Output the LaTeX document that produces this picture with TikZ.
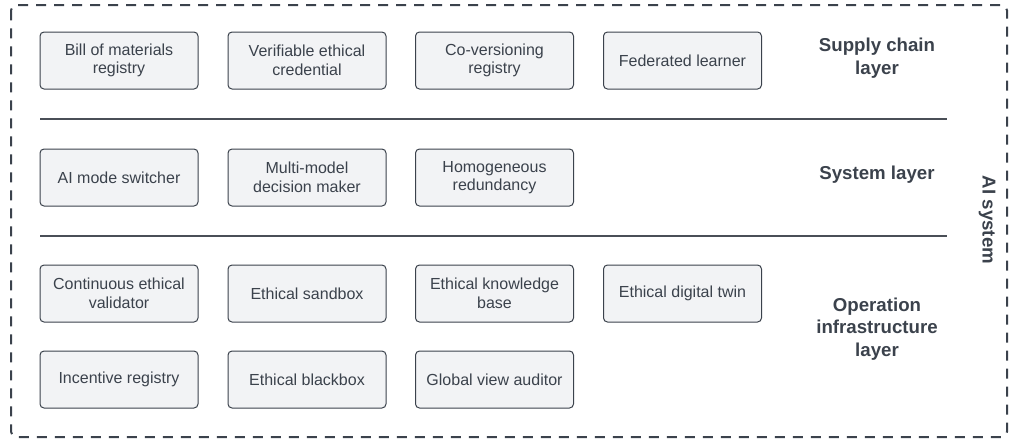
\documentclass[tikz,border=0pt]{standalone}
\usepackage{fontspec}
\setmainfont{Liberation Sans}
\usetikzlibrary{calc}
\definecolor{inkgray}{HTML}{3B424C}
\definecolor{boxfill}{HTML}{F2F3F5}
\definecolor{rulegray}{HTML}{4A4F57}

\begin{document}
\begin{tikzpicture}[x=0.75pt,y=-0.75pt,
  pattern/.style={rectangle, draw=inkgray, fill=boxfill, rounded corners=3pt, line width=0.75pt,
    minimum width=118.5pt, minimum height=42.75pt, align=center, text=inkgray,
    font=\fontsize{12}{14}\selectfont, inner sep=2pt},
  layer/.style={align=center, text=inkgray, font=\fontsize{14}{17}\selectfont\bfseries}]
\useasboundingbox (0,0) rectangle (1018,440);

% outer frame
\draw[inkgray, line width=1.5pt, dash pattern=on 7.5pt off 6pt, rounded corners=4pt] (11,5) rectangle (1007,437);

% supply chain layer
\node[pattern] at (119,60.5)(bom) {Bill of materials\\registry};
\node[pattern] at (307,60.5)(vec) {Verifiable ethical\\credential};
\node[pattern] at (494.5,60.5)(cov) {Co-versioning\\registry};
\node[pattern] at (682.5,60.5)(fed) {Federated learner};
\node[layer] at (877,58)(supply) {Supply chain\\layer};

\draw[rulegray, line width=1pt] (40,119) -- (947,119);

% system layer
\node[pattern] at (119,177.5)(switch) {AI mode switcher};
\node[pattern] at (307,177.5)(multi) {Multi-model\\decision maker};
\node[pattern] at (494.5,177.5)(redund) {Homogeneous\\redundancy};
\node[layer] at (877,175)(system) {System layer};

\draw[rulegray, line width=1pt] (40,236) -- (947,236);

% operation infrastructure layer
\node[pattern] at (119,293.5)(valid) {Continuous ethical\\validator};
\node[pattern] at (307,293.5)(sandbox) {Ethical sandbox};
\node[pattern] at (494.5,293.5)(kbase) {Ethical knowledge\\base};
\node[pattern] at (682.5,293.5)(twin) {Ethical digital twin};
\node[pattern] at (119,379.5)(incent) {Incentive registry};
\node[pattern] at (307,379.5)(blackbox) {Ethical blackbox};
\node[pattern] at (494.5,379.5)(auditor) {Global view auditor};
\node[layer] at (877,329)(operation) {Operation\\infrastructure\\layer};

\node[layer, rotate=-90] at (987,220)(aisys) {AI system};

\end{tikzpicture}
\end{document}
